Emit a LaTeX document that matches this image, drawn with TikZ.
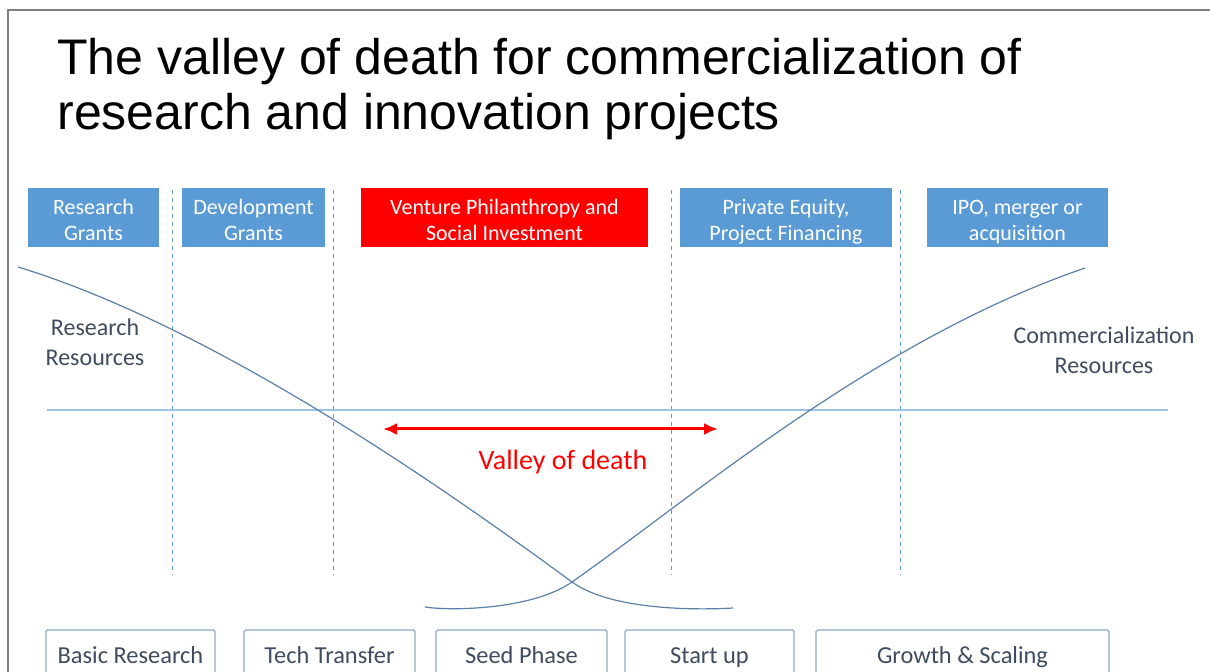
\documentclass[tikz,border=0pt]{standalone}
\usepackage{fontspec}
\setmainfont{Carlito}
\newfontfamily\titlefont{Liberation Sans}
\usetikzlibrary{arrows.meta}
\definecolor{grantblue}{HTML}{5B9BD5}
\definecolor{curveblue}{HTML}{5A7FA8}
\definecolor{axisblue}{HTML}{9DC3E6}
\definecolor{stageline}{HTML}{8FAACB}
\definecolor{labelgray}{HTML}{3F4B5E}
% struts that lower the two-line texts in the funding boxes
\newcommand{\fundtop}{\rule{0pt}{12.5pt}}
\newcommand{\fundbot}{\rule[-2.5pt]{0pt}{0pt}}
\tikzstyle{fund} = [rectangle, fill=grantblue, text=white, align=center,
    inner sep=0pt, minimum height=29.5pt, font=\fontsize{11}{13}\selectfont]
\tikzstyle{stage} = [rectangle, draw=stageline, line width=0.6pt, fill=white,
    text=labelgray, inner sep=0pt, minimum height=28pt, rounded corners=0.8pt,
    text height=8.5pt, text depth=2.5pt, font=\fontsize{12.2}{14}\selectfont]
\tikzstyle{curve} = [draw=curveblue, line width=0.6pt]
\tikzstyle{phase} = [draw=grantblue, dash pattern=on 2pt off 2pt, line width=0.5pt]
\tikzstyle{res} = [text=labelgray, align=center, font=\fontsize{12}{15}\selectfont]

\begin{document}
\begin{tikzpicture}[x=0.5pt, y=-0.5pt]
    \useasboundingbox (0,0) rectangle (1210,672);
    \clip (0,0) rectangle (1210,672);
    % Frame
    \draw [gray, line width=1pt] (8,700) -- (8,10) -- (1230,10);
    % Title
    \node [anchor=base west, inner sep=0pt, font=\titlefont\fontsize{25}{28}\selectfont] (title1) at (57,75) {The valley of death for commercialization of};
    \node [anchor=base west, inner sep=0pt, font=\titlefont\fontsize{25}{28}\selectfont] (title2) at (57,130) {research and innovation projects};
    % Phase separators
    \foreach \x/\n in {172/a, 333/b, 671/c, 900/d} {
        \coordinate (sep\n top) at (\x,190);
        \coordinate (sep\n bot) at (\x,575);
        \path [phase] (sep\n top) -- (sep\n bot);
    }
    % Funding boxes
    \node [fund, minimum width=65.5pt] (rgrant) at (93.5,218) {\fundtop Research\\Grants\fundbot};
    \node [fund, minimum width=71.5pt] (dgrant) at (253.5,218) {\fundtop Development\\Grants\fundbot};
    \node [fund, fill=red, minimum width=143.5pt] (venture) at (504.5,218) {\fundtop Venture Philanthropy and\\Social Investment\fundbot};
    \node [fund, minimum width=106pt] (equity) at (786,218) {\fundtop Private Equity,\\Project Financing\fundbot};
    \node [fund, minimum width=90.5pt] (ipo) at (1017.5,218) {\fundtop IPO, merger or\\acquisition\fundbot};
    % Zero line
    \coordinate (hleft) at (47,410);
    \coordinate (hright) at (1168,410);
    \path [draw=axisblue, line width=0.6pt] (hleft) -- (hright);
    % Resource curves
    \coordinate (cross) at (572,582);
    \path [curve] (18,267) .. controls (218,328) and (452,494) .. (cross)
        .. controls (612,611) and (700,610) .. (733,608);
    \path [curve] (425,607) .. controls (450,611) and (532,610) .. (cross)
        .. controls (692,498) and (875,340) .. (1085,268);
    \node [res] (rres) at (95,342) {Research\\Resources};
    \node [res] (cres) at (1104,350) {Commercialization\\Resources};
    % Valley of death
    \coordinate (vleft) at (383,429);
    \coordinate (vright) at (718,429);
    \path [draw=red, line width=1.5pt, {Latex[length=7pt,width=6pt]}-{Latex[length=7pt,width=6pt]}] (vleft) -- (vright);
    \node [text=red, font=\fontsize{14}{16}\selectfont] (valley) at (563,462) {Valley of death};
    % Stages
    \node [stage, minimum width=84.5pt] (basic) at (130.5,658) {Basic Research};
    \node [stage, minimum width=85.5pt] (tech) at (329.5,658) {Tech Transfer};
    \node [stage, minimum width=85.5pt] (seed) at (521.5,658) {Seed Phase};
    \node [stage, minimum width=84.5pt] (startup) at (709.5,658) {Start up};
    \node [stage, minimum width=146.5pt] (growth) at (962.5,658) {Growth \& Scaling};
\end{tikzpicture}
\end{document}
